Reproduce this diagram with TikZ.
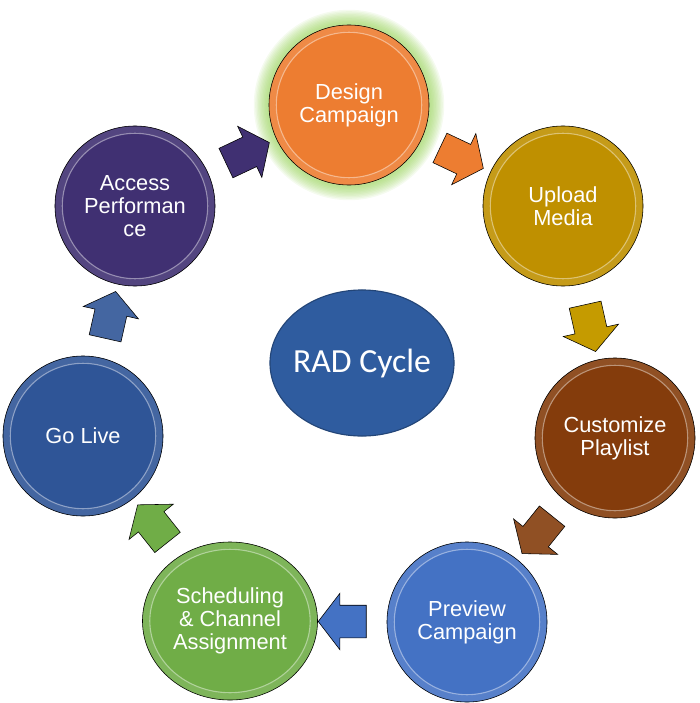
\documentclass[tikz,border=0pt]{standalone}
\usepackage{fontspec}
\setmainfont{Liberation Sans}
\newfontfamily\calibri{Carlito}
\usetikzlibrary{shapes.geometric,shapes.arrows,calc,backgrounds}

\definecolor{cDesign}{HTML}{ED7D31}
\definecolor{cUpload}{HTML}{BF9000}
\definecolor{cCustom}{HTML}{843C0C}
\definecolor{cPreview}{HTML}{4472C4}
\definecolor{cSched}{HTML}{70AD47}
\definecolor{cLive}{HTML}{2F5597}
\definecolor{cAccess}{HTML}{403072}
\definecolor{cRad}{HTML}{2F5C9F}
\definecolor{cGlow}{HTML}{92D050}

\begin{document}
\begin{tikzpicture}[
    x=0.025cm, y=-0.025cm,
    stage/.style={ellipse, draw=black, thin, fill=#1, minimum width=4cm, minimum height=4cm, inner sep=0pt, align=center, text=white, font=\fontsize{15.5}{16.5}\selectfont,
        path picture={
            \draw[#1!90!white, line width=4.5pt] let \p1=(path picture bounding box.north east), \p2=(path picture bounding box.center) in (\p2) ellipse [x radius=\x1-\x2-2.5pt, y radius=\y1-\y2-2.5pt];
            \draw[#1!55!white, line width=0.8pt] let \p1=(path picture bounding box.north east), \p2=(path picture bounding box.center) in (\p2) ellipse [x radius=\x1-\x2-5.2pt, y radius=\y1-\y2-5.2pt];
        }},
    flow/.style={single arrow, draw=black, thin, fill=#1, minimum height=1.2cm, inner xsep=0pt, inner ysep=0.4cm, single arrow head extend=0.3cm, single arrow tip angle=105}
]
    \useasboundingbox (0,0) rectangle (699,703);

    % stages of the cycle
    \node [stage=cDesign] (design) at (349,105) {Design\\Campaign};
    \node [stage=cUpload] (upload) at (563,206) {Upload\\Media};
    \node [stage=cCustom] (custom) at (615,438) {Customize\\Playlist};
    \node [stage=cPreview] (preview) at (467,622) {Preview\\Campaign};
    \node [stage=cSched, minimum width=4.375cm, minimum height=3.95cm] (sched) at (230,621) {Scheduling\\\& Channel\\Assignment};
    \node [stage=cLive] (live) at (83,436) {Go Live};
    \node [stage=cAccess] (access) at (135,206) {Access\\Performan\\ce};

    % centre
    \node [ellipse, fill=cRad, draw=cRad!75!black, line width=0.8pt, inner sep=0pt, minimum width=4.6cm, minimum height=3.65cm, text=white, font=\calibri\fontsize{24}{28}\selectfont] (rad) at (362,363) {\makebox[0pt]{RAD Cycle}};

    % glow behind the first stage
    \begin{scope}[on background layer]
        \foreach \i in {1,...,10}
            \fill [cGlow, opacity=0.09] (design.center) circle [radius=2.03cm+\i*0.035cm];
    \end{scope}

    % block arrows between stages
    \node [flow=cAccess, rotate=25.3] (a1) at ($(access)!0.5!(design)$) {};
    \node [flow=cDesign, rotate=-25.3] (a2) at ($(design)!0.5!(upload)$) {};
    \node [flow=cUpload!90!yellow, rotate=-77.4] (a3) at ($(upload)!0.5!(custom)$) {};
    \node [flow=cCustom!90!white, rotate=-128.8] (a4) at ($(custom)!0.5!(preview)$) {};
    \node [flow=cPreview, rotate=180] (a5) at ($(preview)!0.5!(sched)$) {};
    \node [flow=cSched, rotate=128.5] (a6) at ($(sched)!0.5!(live)$) {};
    \node [flow=cLive!90!white, rotate=77.3] (a7) at ($(live)!0.5!(access)$) {};
\end{tikzpicture}
\end{document}
